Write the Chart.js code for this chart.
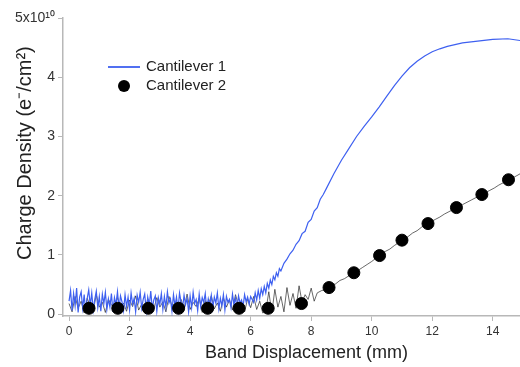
<!DOCTYPE html>
<html>
<head>
<meta charset="utf-8">
<script src="https://cdn.jsdelivr.net/npm/chart.js@4/dist/chart.umd.min.js"></script>
<style>
  html, body { margin: 0; padding: 0; background: #fff; }
  #wrap { width: 520px; height: 367px; }
</style>
</head>
<body>
<div id="wrap"><canvas id="chart" width="520" height="367"></canvas></div>
<script>
// noisy baselines: blue sampled every 0.05 mm, black every 0.1 mm, both from 0 mm
const blueStep = 0.05;
const blackStep = 0.1;

const blueNoise = [
    0.22, 0.40, 0.06, 0.35, 0.14, 0.44, 0.03, 0.29, 0.38, 0.10,
    0.33, 0.02, 0.27, 0.41, 0.15, 0.36, 0.07, 0.25, 0.39, 0.11,
    0.30, 0.05, 0.34, 0.18, 0.37, 0.08, 0.26, 0.12, 0.35, 0.04,
    0.28, 0.16, 0.38, 0.09, 0.31, 0.21, 0.06, 0.33, 0.13, 0.29,
    0.07, 0.36, 0.17, 0.27, 0.04, 0.32, 0.20, 0.37, 0.10, 0.25,
    0.34, 0.06, 0.29, 0.15, 0.39, 0.09, 0.24, 0.31, 0.05, 0.28,
    0.17, 0.35, 0.08, 0.30, 0.12, 0.38, 0.19, 0.26, 0.05, 0.33,
    0.14, 0.29, 0.07, 0.36, 0.21, 0.10, 0.32, 0.16, 0.27, 0.04,
    0.31, 0.11, 0.37, 0.18, 0.25, 0.06, 0.34, 0.13, 0.28, 0.20,
    0.35, 0.08, 0.26, 0.15, 0.32, 0.10, 0.29, 0.19, 0.36, 0.09,
    0.27, 0.14, 0.33, 0.07, 0.30, 0.20, 0.25, 0.11, 0.34, 0.16,
    0.28, 0.10, 0.31, 0.19, 0.24, 0.13, 0.33, 0.21, 0.29, 0.17,
    0.30
];
const blueRiseX = [6.1, 6.15, 6.2, 6.25, 6.3, 6.35, 6.4, 6.45, 6.5, 6.55, 6.6, 6.65, 6.7, 6.75, 6.8, 6.85, 6.9, 6.95,
    7.0, 7.1, 7.2, 7.3, 7.4, 7.5, 7.6, 7.7, 7.8, 7.9, 8.0,
    8.1, 8.2, 8.3, 8.4, 8.5, 8.75, 9.0, 9.25, 9.5, 9.75, 10.0, 10.25, 10.5, 10.75, 11.0, 11.25, 11.5, 11.75,
    12.0, 12.25, 12.5, 12.75, 13.0, 13.5, 14.0, 14.5, 14.9];
const blueRiseY = [0.20, 0.36, 0.24, 0.40, 0.27, 0.43, 0.33, 0.47, 0.36, 0.52, 0.44, 0.58, 0.50, 0.64, 0.58, 0.70, 0.64, 0.77,
    0.73, 0.86, 0.93, 1.02, 1.08, 1.18, 1.24, 1.36, 1.40, 1.55, 1.60,
    1.74, 1.80, 1.94, 2.02, 2.12, 2.37, 2.60, 2.80, 3.00, 3.17, 3.33, 3.50, 3.68, 3.86, 4.02, 4.16, 4.27, 4.36,
    4.43, 4.48, 4.52, 4.55, 4.58, 4.61, 4.64, 4.65, 4.62];

const blackNoise = [
    0.18, 0.04, 0.30, 0.10, 0.22, 0.02, 0.27, 0.14, 0.06, 0.33,
    0.12, 0.20, 0.03, 0.25, 0.16, 0.08, 0.29, 0.11, 0.19, 0.05,
    0.24, 0.13, 0.31, 0.07, 0.17, 0.02, 0.26, 0.15, 0.09, 0.28,
    0.12, 0.21, 0.04, 0.30, 0.14, 0.18, 0.06, 0.25, 0.10, 0.34,
    0.08, 0.20, 0.13, 0.27, 0.03, 0.23, 0.16, 0.31, 0.09, 0.19,
    0.05, 0.28, 0.12, 0.24, 0.07, 0.33, 0.15, 0.21, 0.04, 0.26,
    0.11, 0.30, 0.08, 0.22, 0.02, 0.05, 0.38, 0.02, 0.42, 0.12,
    0.30, 0.04, 0.45, 0.15, 0.35, 0.10, 0.48, 0.20, 0.33, 0.25,
    0.44, 0.22, 0.36
];
const blackRiseX = [8.35, 8.5, 8.65, 8.8, 8.95, 9.1, 9.25, 9.4, 9.55, 9.7, 9.85, 10.0, 10.15, 10.3, 10.45, 10.6, 10.75, 10.9,
    11.05, 11.2, 11.35, 11.5, 11.65, 11.8, 11.95, 12.1, 12.25, 12.4, 12.55, 12.7, 12.85, 13.0, 13.15, 13.3, 13.45,
    13.6, 13.75, 13.9, 14.05, 14.2, 14.35, 14.5, 14.65, 14.8, 14.9];
const blackRiseY = [0.40, 0.42, 0.49, 0.51, 0.57, 0.60, 0.65, 0.69, 0.74, 0.79, 0.84, 0.89, 0.95, 1.00, 1.06, 1.10, 1.16, 1.21,
    1.26, 1.31, 1.37, 1.41, 1.47, 1.51, 1.56, 1.60, 1.64, 1.69, 1.73, 1.77, 1.81, 1.85, 1.89, 1.93, 1.97,
    2.01, 2.05, 2.09, 2.13, 2.18, 2.22, 2.26, 2.30, 2.34, 2.37];

const markerX = [0.66, 1.61, 2.62, 3.62, 4.58, 5.62, 6.58, 7.68, 8.59, 9.41, 10.26, 11.0, 11.86, 12.8, 13.64, 14.52];
const markerY = [0.10, 0.10, 0.10, 0.10, 0.10, 0.10, 0.10, 0.18, 0.45, 0.70, 0.99, 1.25, 1.53, 1.80, 2.02, 2.27];

const xTicks = [0, 2, 4, 6, 8, 10, 12, 14];
const yTicks = [0, 1, 2, 3, 4, 5];
const seriesNames = ['Cantilever 1', 'Cantilever 2'];

const BLUE = 'rgb(62, 96, 240)';
const AXIS = '#b8b8b8';
const FONT = '"Liberation Sans", Arial, sans-serif';
const NB = '\u00a0'; // leading spaces nudge the centred axis titles off-centre like the original

function toPoints(noise, step, riseX, riseY) {
    const pts = noise.map((v, i) => ({ x: +(i * step).toFixed(2), y: v }));
    riseX.forEach((x, i) => pts.push({ x, y: riseY[i] }));
    return pts;
}

const bluePts = toPoints(blueNoise, blueStep, blueRiseX, blueRiseY);
const blackPts = toPoints(blackNoise, blackStep, blackRiseX, blackRiseY);
const markerPts = markerX.map((x, i) => ({ x, y: markerY[i] }));

// legend drawn inside the plot, top left
const insideLegend = {
    id: 'insideLegend',
    afterDraw(chart) {
        const ctx = chart.ctx;
        ctx.save();
        ctx.strokeStyle = BLUE;
        ctx.lineWidth = 1.8;
        ctx.beginPath();
        ctx.moveTo(108, 67);
        ctx.lineTo(140, 67);
        ctx.stroke();
        ctx.fillStyle = '#000';
        ctx.beginPath();
        ctx.arc(124, 86, 6, 0, Math.PI * 2);
        ctx.fill();
        ctx.fillStyle = '#222';
        ctx.font = '15px ' + FONT;
        ctx.textBaseline = 'middle';
        ctx.fillText(seriesNames[0], 146, 67);
        ctx.fillText(seriesNames[1], 146, 86);
        ctx.restore();
    }
};

const ctx = document.getElementById('chart').getContext('2d');

const chart = new Chart(ctx, {
    type: 'scatter',
    data: {
        datasets: [
            {
                label: seriesNames[1] + ' trace',
                data: blackPts,
                showLine: true,
                borderColor: 'rgba(25, 25, 25, 0.65)',
                borderWidth: 1,
                pointRadius: 0,
                order: 3
            },
            {
                label: seriesNames[0],
                data: bluePts,
                showLine: true,
                borderColor: BLUE,
                borderWidth: 1.2,
                pointRadius: 0,
                order: 2
            },
            {
                label: seriesNames[1],
                data: markerPts,
                showLine: false,
                backgroundColor: '#000',
                borderColor: '#000',
                pointRadius: 6,
                order: 1
            }
        ]
    },
    options: {
        responsive: false,
        animation: false,
        devicePixelRatio: 1,
        layout: { autoPadding: false, padding: { top: 18, right: 0, left: 0, bottom: 0 } },
        plugins: {
            legend: { display: false },
            tooltip: { enabled: false }
        },
        scales: {
            x: {
                type: 'linear',
                min: -0.2,
                max: 14.9,
                afterBuildTicks: s => { s.ticks = xTicks.map(v => ({ value: v })); },
                afterFit: s => { s.height = 51; },
                border: { display: true, color: AXIS, width: 1.5 },
                grid: { drawOnChartArea: false, color: AXIS, tickLength: 5 },
                ticks: { color: '#333', font: { family: FONT, size: 12 }, padding: 3, maxRotation: 0 },
                title: {
                    display: true,
                    text: NB.repeat(6) + 'Band Displacement (mm)',
                    color: '#222',
                    font: { family: FONT, size: 18 },
                    padding: { top: 0, bottom: 3 }
                }
            },
            y: {
                type: 'linear',
                min: -0.03,
                max: 5,
                afterBuildTicks: s => { s.ticks = yTicks.map(v => ({ value: v })); },
                afterFit: s => { s.width = 63; },
                border: { display: true, color: AXIS, width: 1.5 },
                grid: { drawOnChartArea: false, color: AXIS, tickLength: 5 },
                ticks: {
                    color: '#333',
                    font: { family: FONT, size: 14 },
                    padding: 3,
                    callback: v => (v === 5 ? '5x10\u00b9\u2070' : v)
                },
                title: {
                    display: true,
                    text: NB.repeat(5) + 'Charge Density (e\u207b/cm\u00b2)',
                    color: '#222',
                    font: { family: FONT, size: 20 },
                    padding: { top: 13, bottom: 0 }
                }
            }
        }
    },
    plugins: [insideLegend]
});
</script>
</body>
</html>
